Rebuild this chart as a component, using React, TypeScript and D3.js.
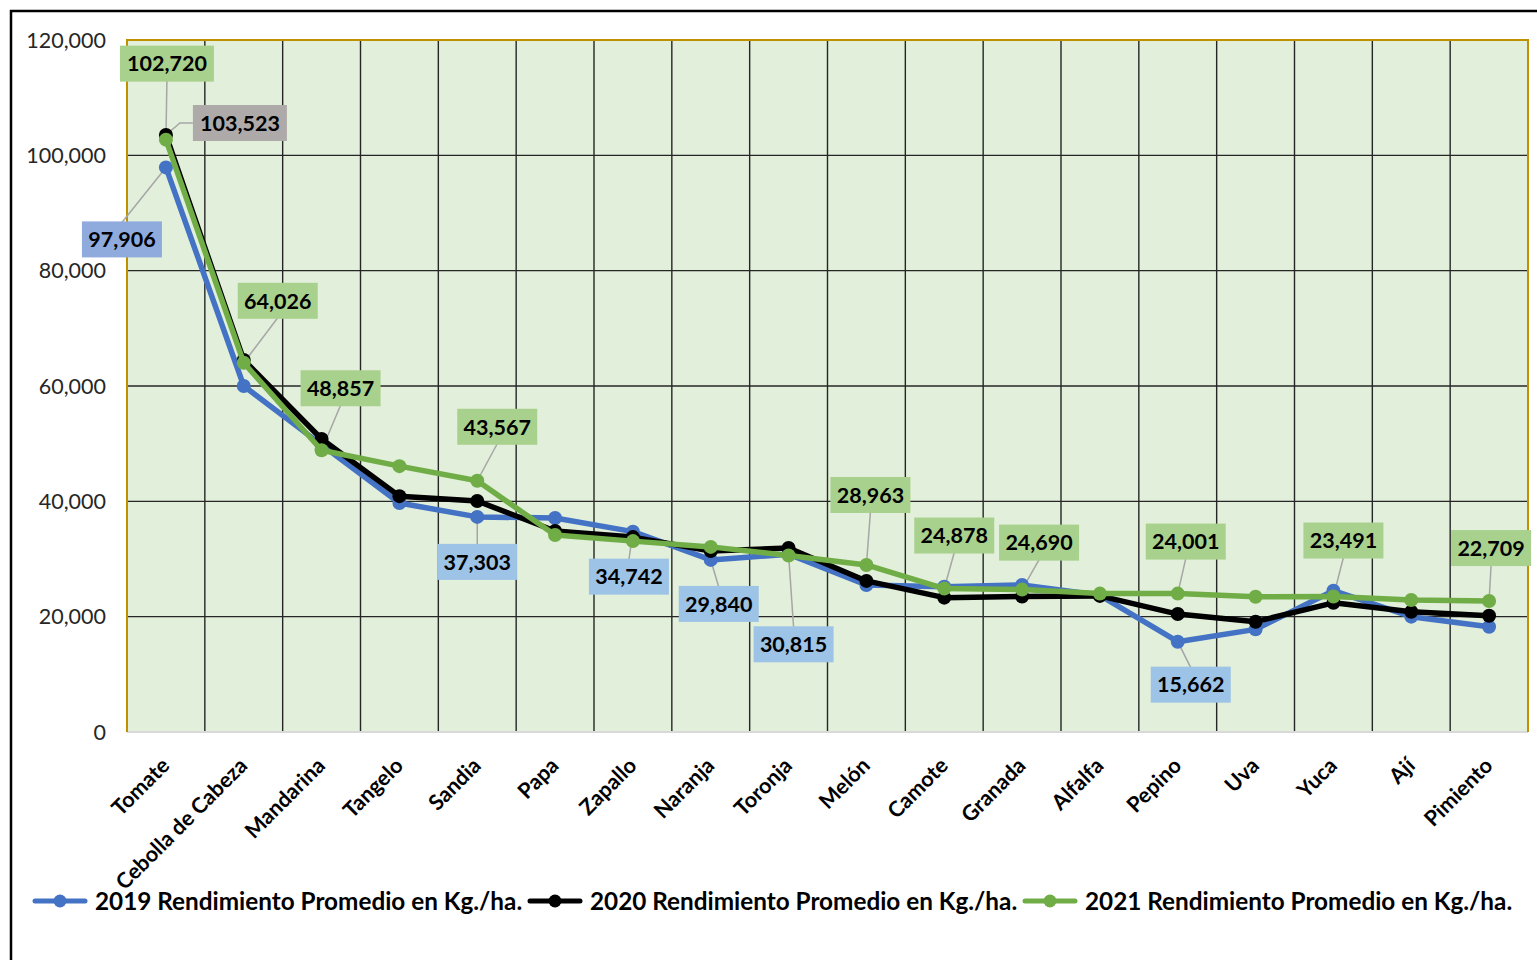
import React from 'react';
import * as d3 from 'd3';

const categories = [
  'Tomate', 'Cebolla de Cabeza', 'Mandarina', 'Tangelo', 'Sandia', 'Papa', 'Zapallo', 'Naranja',
  'Toronja', 'Melón', 'Camote', 'Granada', 'Alfalfa', 'Pepino', 'Uva', 'Yuca', 'Ají', 'Pimiento',
];

const values2019 = [97906, 60000, 49800, 39700, 37303, 37100, 34742, 29840, 30815, 25500, 25200, 25500, 23700, 15662, 17800, 24500, 20000, 18260];
const values2020 = [103523, 64500, 50800, 40900, 40050, 34850, 33800, 31400, 31900, 26200, 23300, 23500, 23600, 20450, 19130, 22400, 20860, 20170];
const values2021 = [102720, 64026, 48857, 46100, 43567, 34150, 33100, 32100, 30600, 28963, 24878, 24690, 24000, 24001, 23460, 23491, 22900, 22709];

const yTicks = [0, 20000, 40000, 60000, 80000, 100000, 120000];

const seriesNames = [
  '2019 Rendimiento Promedio en Kg./ha.',
  '2020 Rendimiento Promedio en Kg./ha.',
  '2021 Rendimiento Promedio en Kg./ha.',
];
const seriesColors = ['#4472C4', '#000000', '#70AD47'];

// data labels: series index, category index, box offset from the point, fill
const labels = [
  { s: 2, i: 0, dx: 1, dy: -76, fill: '#A9D18E' },
  { s: 1, i: 0, dx: 74, dy: -12, fill: '#AEAAAA', elbow: true },
  { s: 0, i: 0, dx: -44, dy: 72, fill: '#8FAADC' },
  { s: 2, i: 1, dx: 34, dy: -62, fill: '#A9D18E' },
  { s: 2, i: 2, dx: 19, dy: -62, fill: '#A9D18E' },
  { s: 2, i: 4, dx: 20, dy: -54, fill: '#A9D18E' },
  { s: 0, i: 4, dx: 0, dy: 45, fill: '#9DC3E6' },
  { s: 0, i: 6, dx: -4, dy: 45, fill: '#9DC3E6' },
  { s: 0, i: 7, dx: 8, dy: 44, fill: '#9DC3E6' },
  { s: 0, i: 8, dx: 5, dy: 90, fill: '#9DC3E6' },
  { s: 2, i: 9, dx: 4, dy: -70, fill: '#A9D18E' },
  { s: 2, i: 10, dx: 10, dy: -53, fill: '#A9D18E' },
  { s: 2, i: 11, dx: 17, dy: -47, fill: '#A9D18E' },
  { s: 2, i: 13, dx: 8, dy: -52, fill: '#A9D18E' },
  { s: 0, i: 13, dx: 13, dy: 43, fill: '#9DC3E6' },
  { s: 2, i: 15, dx: 10, dy: -56, fill: '#A9D18E' },
  { s: 2, i: 17, dx: 2, dy: -53, fill: '#A9D18E' },
];

const W = 1537;
const H = 960;
const margin = { top: 40, right: 9, bottom: 228, left: 127 };
const FONT = 'Lato, "Open Sans", sans-serif';

export default function App() {
  const allSeries = [values2019, values2020, values2021];
  const x = d3.scaleBand().domain(categories).range([margin.left, W - margin.right]);
  const y = d3.scaleLinear().domain([0, 120000]).range([H - margin.bottom, margin.top]);
  const cx = (c: string) => (x(c) as number) + x.bandwidth() / 2;
  const line = d3.line<number>().x((_, i) => cx(categories[i])).y((d) => y(d));
  const fmt = d3.format(',');
  const x0 = margin.left;
  const x1 = W - margin.right;
  const yTop = margin.top;
  const yBot = H - margin.bottom;

  const legendX = [35, 530, 1025];

  return (
    <svg width={W} height={H} style={{ position: 'absolute', left: 0, top: 0, display: 'block', background: '#fff' }}>
      <rect x={11} y={11} width={1560} height={1000} fill="#fff" stroke="#000" strokeWidth={2.5} />
      {/* plot area */}
      <rect x={x0} y={yTop} width={x1 - x0} height={yBot - yTop} fill="#E2EFDA" />
      {yTicks.slice(1).map((t) => (
        <line key={t} x1={x0} x2={x1} y1={y(t)} y2={y(t)} stroke="#262626" strokeWidth={1.4} />
      ))}
      {categories.slice(1).map((c) => (
        <line key={c} x1={x(c)} x2={x(c)} y1={yTop} y2={yBot} stroke="#262626" strokeWidth={1.4} />
      ))}
      <line x1={x0} x2={x1} y1={yBot} y2={yBot} stroke="#D9D9D9" strokeWidth={2} />
      <path d={`M${x0},${yBot}V${yTop}H${x1}V${yBot}`} fill="none" stroke="#BF9000" strokeWidth={2} />
      {/* y ticks */}
      {yTicks.map((t) => (
        <text key={t} x={106} y={y(t)} dy="0.35em" textAnchor="end" fontFamily={FONT} fontSize={21.5} fill="#262626">
          {fmt(t)}
        </text>
      ))}
      {/* x labels */}
      {categories.map((c) => (
        <text
          key={c}
          transform={`translate(${cx(c) + 5},${yBot + 35}) rotate(-45)`}
          textAnchor="end"
          fontFamily={FONT}
          fontWeight="bold"
          fontSize={21.5}
          fill="#000"
        >
          {c}
        </text>
      ))}
      {/* leader lines */}
      {labels.map((l, k) => {
        const px = cx(categories[l.i]);
        const py = y(allSeries[l.s][l.i]);
        const bx = px + l.dx;
        const by = py + l.dy;
        if (l.elbow) {
          return (
            <polyline key={k} points={`${px},${py} ${px + 14},${by} ${bx - 47},${by}`} fill="none" stroke="#A6A6A6" strokeWidth={1.5} />
          );
        }
        const ey = l.dy < 0 ? by + 17 : by - 17;
        return <line key={k} x1={px} y1={py} x2={bx} y2={ey} stroke="#A6A6A6" strokeWidth={1.5} />;
      })}
      {/* series */}
      {allSeries.map((vals, s) => (
        <g key={s}>
          <path d={line(vals) || ''} fill="none" stroke={seriesColors[s]} strokeWidth={5.5} strokeLinejoin="round" />
          {vals.map((v, i) => (
            <circle key={i} cx={cx(categories[i])} cy={y(v)} r={7} fill={seriesColors[s]} />
          ))}
        </g>
      ))}
      {/* data labels */}
      {labels.map((l, k) => {
        const px = cx(categories[l.i]);
        const py = y(allSeries[l.s][l.i]);
        const v = fmt(allSeries[l.s][l.i]);
        const bw = v.length > 6 ? 94 : 80;
        return (
          <g key={k} transform={`translate(${px + l.dx},${py + l.dy})`}>
            <rect x={-bw / 2} y={-18} width={bw} height={36} fill={l.fill} />
            <text textAnchor="middle" dy="0.36em" fontFamily={FONT} fontWeight="bold" fontSize={21.5} fill="#000">
              {v}
            </text>
          </g>
        );
      })}
      {/* legend */}
      {seriesNames.map((n, s) => (
        <g key={n} transform={`translate(${legendX[s]},901)`}>
          <line x1={0} x2={50} y1={0} y2={0} stroke={seriesColors[s]} strokeWidth={5} strokeLinecap="round" />
          <circle cx={25} cy={0} r={6.5} fill={seriesColors[s]} />
          <text x={60} dy="0.36em" fontFamily={FONT} fontWeight="bold" fontSize={24.3} fill="#000">
            {n}
          </text>
        </g>
      ))}
    </svg>
  );
}
